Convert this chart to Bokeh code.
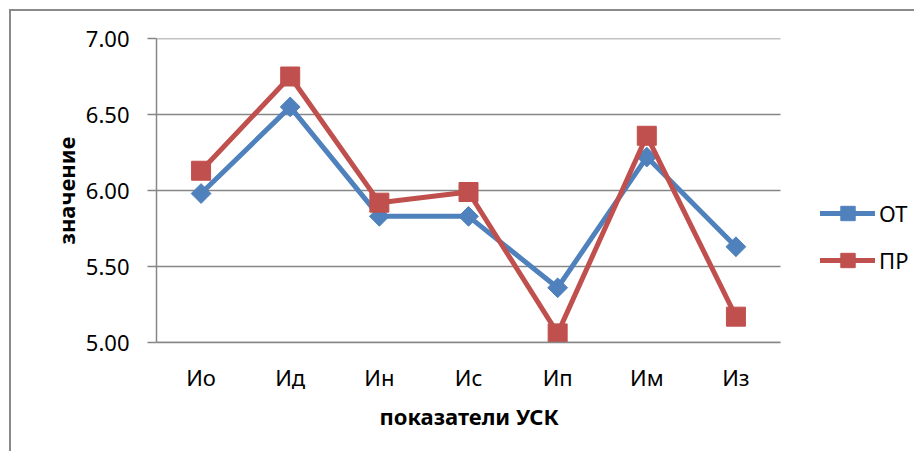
import math
from bokeh.plotting import figure
from bokeh.models import Range1d, FixedTicker, NumeralTickFormatter, Legend, LegendItem, Title
from bokeh.embed import file_html
from bokeh.resources import INLINE

categories = ["Ио", "Ид", "Ин", "Ис", "Ип", "Им", "Из"]
ot_values = [5.98, 6.55, 5.83, 5.83, 5.36, 6.22, 5.63]
pr_values = [6.13, 6.75, 5.92, 5.99, 5.06, 6.36, 5.17]
y_ticks = [5.0, 5.5, 6.0, 6.5, 7.0]
series_names = ["ОТ", "ПР"]
x_title = "показатели УСК"
y_title = "значение"

FONT = "Noto Sans"
GRID = "#868686"
BLUE = "#4F81BD"
RED = "#C0504D"

n = len(categories)
xs = [i + 0.5 for i in range(n)]          # category centres on a numeric scale
x_end = n * 760 / 624                      # extra room on the right for the legend

p = figure(width=905, height=442, x_range=Range1d(0, x_end), y_range=Range1d(5.0, 7.0),
           output_backend="svg", toolbar_location=None,
           min_border_left=145, min_border_right=0, min_border_top=27, min_border_bottom=111)
p.styles = {"margin-left": "9px", "margin-top": "9px",
            "border-left": "2px solid #8a8a8a", "border-top": "2px solid #8a8a8a"}
p.outline_line_color = None
p.background_fill_color = "white"
p.border_fill_color = "white"

p.xgrid.visible = False
p.ygrid.visible = False
p.segment(x0=[0] * len(y_ticks), x1=[n] * len(y_ticks), y0=y_ticks, y1=y_ticks,
          line_color=GRID, line_width=1.5)

p.yaxis.ticker = FixedTicker(ticks=y_ticks)
p.yaxis.formatter = NumeralTickFormatter(format="0.00")
p.xaxis.ticker = FixedTicker(ticks=xs)
p.xaxis.major_label_overrides = {x: c for x, c in zip(xs, categories)}
p.xaxis.bounds = (0, n)

for ax in (p.xaxis, p.yaxis):
    ax.axis_line_color = GRID
    ax.axis_line_width = 1.5
    ax.major_tick_line_color = GRID
    ax.major_tick_line_width = 1.5
    ax.minor_tick_line_color = None
    ax.major_label_text_font = FONT
    ax.major_label_text_font_size = "22px"
    ax.major_label_text_color = "black"
    ax.axis_label_text_font = FONT
    ax.axis_label_text_font_style = "bold"
    ax.axis_label_text_font_size = "22px"
    ax.axis_label_text_color = "black"

p.yaxis.major_tick_in = 0
p.yaxis.major_tick_out = 9
p.yaxis.major_label_standoff = 18
p.yaxis.axis_label = y_title
p.yaxis.axis_label_standoff = 2

p.xaxis.major_tick_in = 0
p.xaxis.major_tick_out = 0
p.xaxis.major_label_standoff = 19

# x-axis title centred under the category area (not under the legend area)
p.add_layout(Title(text=x_title, align="left", offset=223, standoff=8,
                   text_font=FONT, text_font_size="22px", text_font_style="bold",
                   text_color="black"), "below")

l1 = p.line(xs, ot_values, line_color=BLUE, line_width=5, line_join="round", line_cap="round")
s1 = p.scatter(xs, ot_values, marker="square", angle=math.pi / 4, size=14,
               fill_color=BLUE, line_color=BLUE)
l2 = p.line(xs, pr_values, line_color=RED, line_width=5, line_join="round", line_cap="round")
s2 = p.scatter(xs, pr_values, marker="square", size=19, fill_color=RED, line_color=RED)

legend = Legend(items=[LegendItem(label=series_names[0], renderers=[l1, s1]),
                       LegendItem(label=series_names[1], renderers=[l2, s2])],
                location=(664, 64), glyph_width=55, glyph_height=36, label_height=36,
                label_standoff=4, spacing=11, padding=0, margin=0,
                border_line_color=None, background_fill_alpha=0,
                label_text_font=FONT, label_text_font_size="22px", label_text_color="black")
p.add_layout(legend, "center")

open("out.html", "w").write(file_html(p, INLINE))
